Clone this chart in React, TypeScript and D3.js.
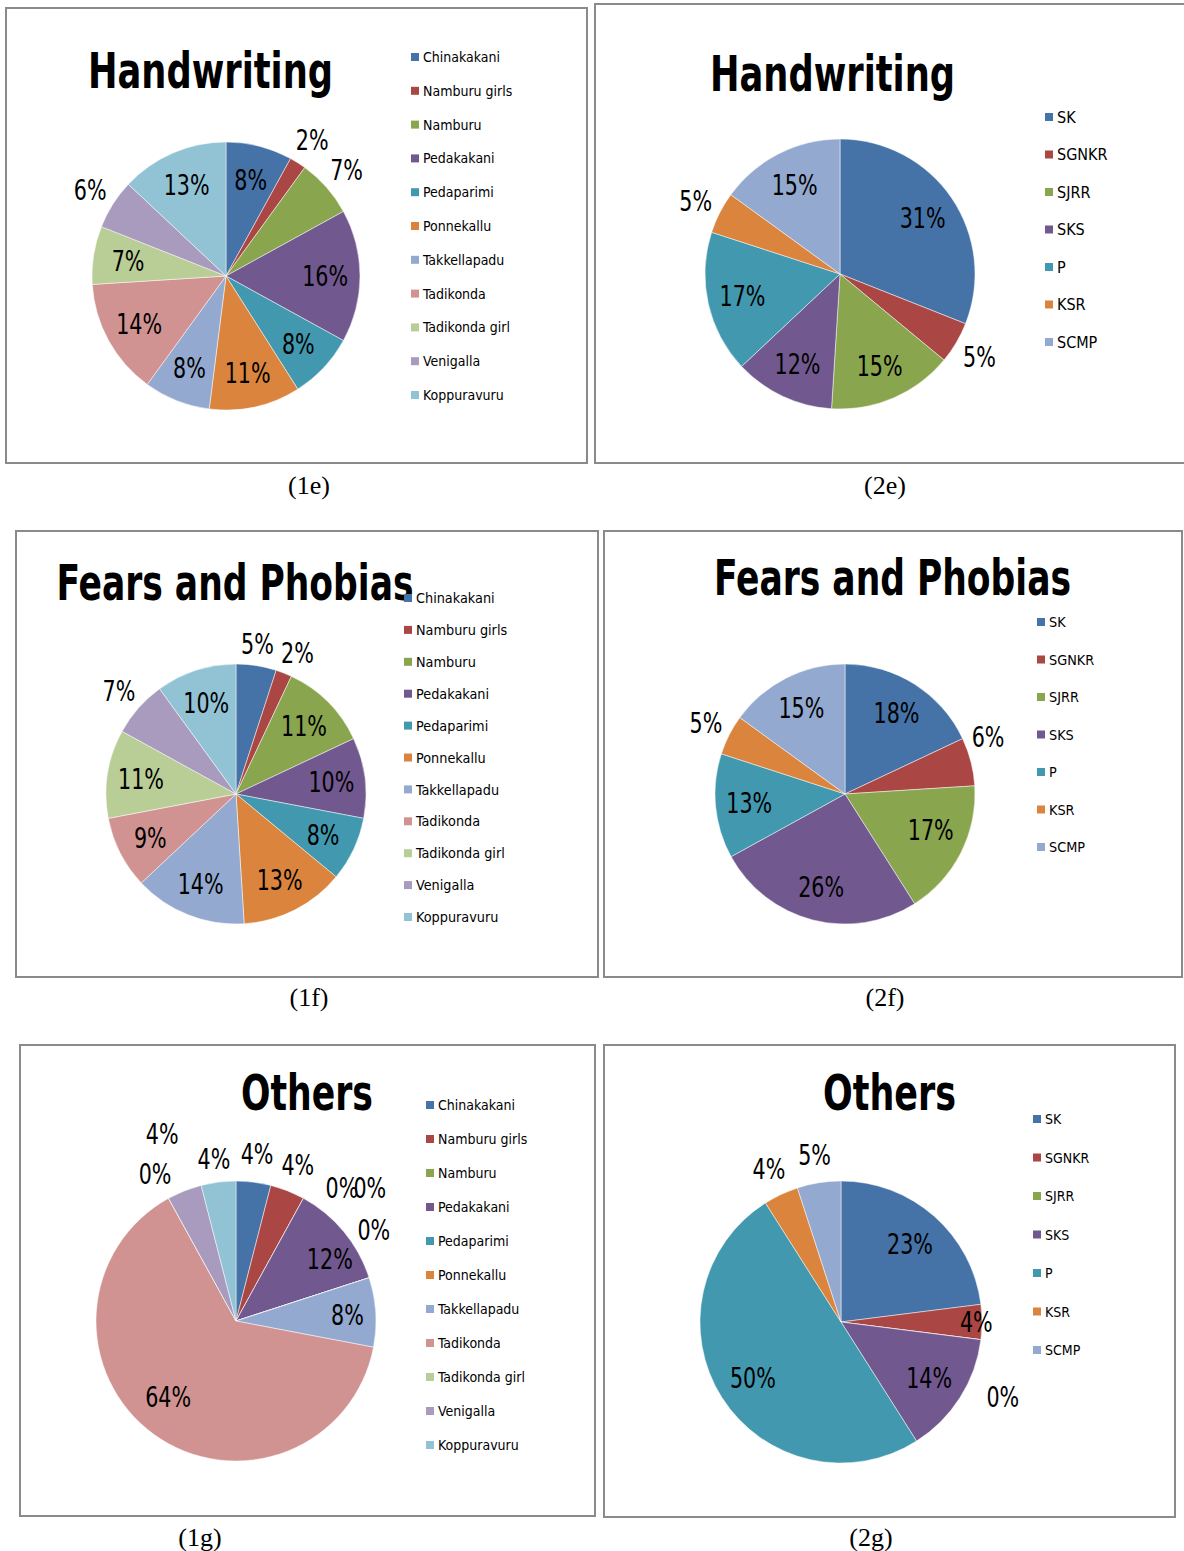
import React, { useEffect, useRef } from "react";
import * as d3 from "d3";

// legend categories
const villages = [
  "Chinakakani",
  "Namburu girls",
  "Namburu",
  "Pedakakani",
  "Pedaparimi",
  "Ponnekallu",
  "Takkellapadu",
  "Tadikonda",
  "Tadikonda girl",
  "Venigalla",
  "Koppuravuru",
];
const schools = ["SK", "SGNKR", "SJRR", "SKS", "P", "KSR", "SCMP"];

// percentages
const handwriting1 = [8, 2, 7, 16, 8, 11, 8, 14, 7, 6, 13];
const handwriting2 = [31, 5, 15, 12, 17, 5, 15];
const fears1 = [5, 2, 11, 10, 8, 13, 14, 9, 11, 7, 10];
const fears2 = [18, 6, 17, 26, 13, 5, 15];
const others1 = [4, 4, 0, 12, 0, 0, 8, 64, 0, 4, 4];
const others2 = [23, 4, 0, 14, 50, 4, 5];

const palette = [
  "#4572A7",
  "#AA4643",
  "#89A54E",
  "#71588F",
  "#4198AF",
  "#DB843D",
  "#93A9CF",
  "#D19392",
  "#B9CD96",
  "#A99BBD",
  "#92C3D4",
];

const narrow = '"Liberation Sans Narrow", "Arial Narrow", "DejaVu Sans Condensed", sans-serif';

// layout of the six panels (label nudges are in px)
const panels = [
  {
    title: "Handwriting", names: villages, values: handwriting1, caption: "(1e)",
    box: [6, 8, 581, 455], cx: 226, cy: 276, r: 134,
    titleX: 210.5, titleY: 88, titleW: 245,
    legX: 411, legY: 57, legStep: 33.8, legFont: 14,
    capX: 309, capY: 494, outside: [1, 2, 9], nudge: {},
  },
  {
    title: "Handwriting", names: schools, values: handwriting2, caption: "(2e)",
    box: [595, 4, 620, 459], cx: 840, cy: 274, r: 135,
    titleX: 832.5, titleY: 91, titleW: 245,
    legX: 1045, legY: 117, legStep: 37.5, legFont: 16,
    capX: 885, capY: 494, outside: [1, 5], nudge: {},
  },
  {
    title: "Fears and Phobias", names: villages, values: fears1, caption: "(1f)",
    box: [16, 531, 582, 446], cx: 236, cy: 794, r: 130,
    titleX: 235, titleY: 600, titleW: 357,
    legX: 404, legY: 598, legStep: 31.9, legFont: 14.3,
    capX: 309, capY: 1006, outside: [0, 1, 9], nudge: { 0: [-3, 4], 1: [4, 4] },
  },
  {
    title: "Fears and Phobias", names: schools, values: fears2, caption: "(2f)",
    box: [604, 531, 578, 446], cx: 845, cy: 794, r: 130,
    titleX: 892.5, titleY: 595, titleW: 357,
    legX: 1037, legY: 622, legStep: 37.5, legFont: 14.3,
    capX: 885, capY: 1006, outside: [1, 5], nudge: { 1: [-8, -18], 2: [0, -8] },
  },
  {
    title: "Others", names: villages, values: others1, caption: "(1g)",
    box: [20, 1045, 575, 471], cx: 236, cy: 1321, r: 140,
    titleX: 307, titleY: 1110, titleW: 132,
    legX: 426, legY: 1105, legStep: 34, legFont: 14,
    capX: 200, capY: 1546, outside: [0, 1, 2, 4, 5, 8, 9, 10],
    nudge: { 2: [25, 14], 3: [14, 4], 4: [-26, -81], 5: [-22, -39], 6: [8, 0], 7: [-7, -8], 9: [-12, -31], 10: [-1, 5] },
  },
  {
    title: "Others", names: schools, values: others2, caption: "(2g)",
    box: [604, 1045, 571, 472], cx: 841, cy: 1322, r: 141,
    titleX: 889.5, titleY: 1110, titleW: 133,
    legX: 1033, legY: 1119, legStep: 38.5, legFont: 14,
    capX: 871, capY: 1546, outside: [2, 5, 6], nudge: { 1: [31, 0], 2: [-6, 54] },
  },
];

const App = () => {
  const svgRef = useRef<SVGSVGElement>(null);

  useEffect(() => {
    const svg = d3.select(svgRef.current);
    svg.selectAll("*").remove();

    svg.append("rect").attr("width", 1184).attr("height", 1551).attr("fill", "#fff");

    const pie = d3.pie<number>().sort(null).value((d) => d);

    panels.forEach((p) => {
      const g = svg.append("g");

      // frame
      g.append("rect")
        .attr("x", p.box[0])
        .attr("y", p.box[1])
        .attr("width", p.box[2])
        .attr("height", p.box[3])
        .attr("fill", "#fff")
        .attr("stroke", "#8a8a8a")
        .attr("stroke-width", 2);

      // title
      g.append("text")
        .attr("x", p.titleX)
        .attr("y", p.titleY)
        .attr("text-anchor", "middle")
        .attr("font-family", narrow)
        .attr("font-weight", "bold")
        .attr("font-size", 50)
        .attr("textLength", p.titleW)
        .attr("lengthAdjust", "spacingAndGlyphs")
        .attr("fill", "#000")
        .text(p.title);

      const arcs = pie(p.values);
      const arc = d3.arc<d3.PieArcDatum<number>>().innerRadius(0).outerRadius(p.r);
      const inArc = d3.arc<d3.PieArcDatum<number>>().innerRadius(p.r * 0.74).outerRadius(p.r * 0.74);
      const outArc = d3.arc<d3.PieArcDatum<number>>().innerRadius(p.r * 1.2).outerRadius(p.r * 1.2);

      const pg = g.append("g").attr("transform", `translate(${p.cx},${p.cy})`);

      pg.selectAll("path")
        .data(arcs)
        .join("path")
        .attr("d", (d) => arc(d))
        .attr("fill", (d, i) => palette[i])
        .attr("stroke", "#fff")
        .attr("stroke-opacity", 0.7)
        .attr("stroke-width", 0.7);

      // percentage labels, squeezed horizontally like the narrow original face
      pg.selectAll("text")
        .data(arcs)
        .join("text")
        .attr("transform", (d, i) => {
          const c = p.outside.includes(i) ? outArc.centroid(d) : inArc.centroid(d);
          const n = (p.nudge as any)[i] || [0, 0];
          return `translate(${c[0] + n[0]},${c[1] + n[1]}) scale(0.82,1)`;
        })
        .attr("text-anchor", "middle")
        .attr("dy", "0.36em")
        .attr("font-family", narrow)
        .attr("font-size", 28)
        .attr("fill", "#000")
        .text((d) => `${d.data}%`);

      // legend
      const lg = g.append("g");
      p.names.forEach((name, i) => {
        const y = p.legY + i * p.legStep;
        lg.append("rect")
          .attr("x", p.legX)
          .attr("y", y - 4)
          .attr("width", 8)
          .attr("height", 8)
          .attr("fill", palette[i]);
        lg.append("text")
          .attr("x", p.legX + 12)
          .attr("y", y)
          .attr("dy", "0.36em")
          .attr("font-family", narrow)
          .attr("font-size", p.legFont)
          .attr("fill", "#000")
          .text(name);
      });

      // caption below frame
      g.append("text")
        .attr("x", p.capX)
        .attr("y", p.capY)
        .attr("text-anchor", "middle")
        .attr("font-family", '"Liberation Serif", "Times New Roman", serif')
        .attr("font-size", 26)
        .attr("fill", "#000")
        .text(p.caption);
    });
  }, []);

  return (
    <svg
      ref={svgRef}
      width={1184}
      height={1551}
      style={{ position: "absolute", left: 0, top: 0, display: "block" }}
    ></svg>
  );
};

export default App;
